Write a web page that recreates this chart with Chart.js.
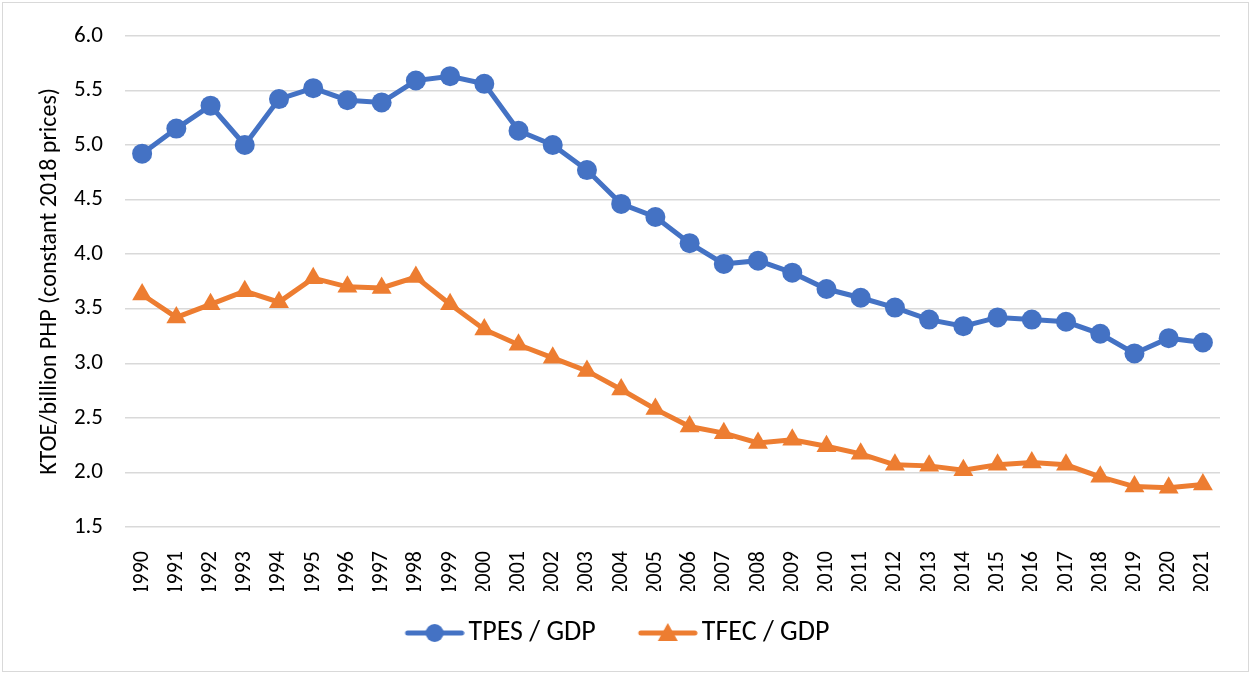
<!DOCTYPE html>
<html>
<head>
<meta charset="utf-8">
<script src="https://cdn.jsdelivr.net/npm/chart.js@4/dist/chart.umd.min.js"></script>
<style>
  body { margin: 0; background: #fff; }
  #wrap { position: relative; width: 1250px; height: 673px; }
  #frame { position: absolute; left: 2px; top: 2px; width: 1245px; height: 668px; border: 1px solid #d9d9d9; pointer-events: none; }
  canvas { position: absolute; left: 0; top: 0; }
</style>
</head>
<body>
<div id="wrap">
  <canvas id="chart" width="1250" height="673"></canvas>
  <div id="frame"></div>
</div>
<script>
const years = ['1990','1991','1992','1993','1994','1995','1996','1997','1998','1999','2000','2001','2002','2003','2004','2005','2006','2007','2008','2009','2010','2011','2012','2013','2014','2015','2016','2017','2018','2019','2020','2021'];
const tpesGdp = [4.92,5.15,5.36,5.00,5.42,5.52,5.41,5.39,5.59,5.63,5.56,5.13,5.00,4.77,4.46,4.34,4.10,3.91,3.94,3.83,3.68,3.60,3.51,3.40,3.34,3.42,3.40,3.38,3.27,3.09,3.23,3.19];
const tfecGdp = [3.63,3.42,3.54,3.66,3.56,3.78,3.70,3.69,3.79,3.54,3.31,3.17,3.05,2.93,2.76,2.58,2.42,2.36,2.27,2.30,2.24,2.17,2.07,2.06,2.02,2.07,2.09,2.07,1.96,1.87,1.86,1.89];
const seriesNames = ['TPES / GDP', 'TFEC / GDP'];
const yAxisTitle = 'KTOE/billion PHP (constant 2018 prices)';

const blue = '#4472C4';
const orange = '#ED7D31';
const fontStack = 'Carlito, "Liberation Sans", Arial, sans-serif';

// legend swatch: short line with the marker on it
// (canvas is wider than the line so the swatch sits close to its text)
const makeSwatch = (color, shape) => {
  const c = document.createElement('canvas');
  c.width = 84;
  c.height = 24;
  const ctx = c.getContext('2d');
  ctx.strokeStyle = color;
  ctx.fillStyle = color;
  ctx.lineWidth = 5;
  ctx.lineCap = 'round';
  ctx.beginPath();
  ctx.moveTo(27, 12);
  ctx.lineTo(81, 12);
  ctx.stroke();
  ctx.beginPath();
  if (shape === 'circle') {
    ctx.arc(54, 12, 9, 0, Math.PI * 2);
  } else {
    ctx.moveTo(54, 2);
    ctx.lineTo(64, 20);
    ctx.lineTo(44, 20);
    ctx.closePath();
  }
  ctx.fill();
  return c;
};
const swatches = [makeSwatch(blue, 'circle'), makeSwatch(orange, 'triangle')];

const chart = new Chart('chart', {
  type: 'line',
  data: {
    labels: years,
    datasets: [
      {
        label: seriesNames[0],
        data: tpesGdp,
        borderColor: blue,
        backgroundColor: blue,
        borderWidth: 5,
        pointStyle: 'circle',
        pointRadius: 10,
        pointBorderWidth: 0,
        tension: 0,
      },
      {
        label: seriesNames[1],
        data: tfecGdp,
        borderColor: orange,
        backgroundColor: orange,
        borderWidth: 5,
        pointStyle: 'triangle',
        pointRadius: 11.5,
        pointBorderWidth: 0,
        tension: 0,
      },
    ],
  },
  options: {
    responsive: false,
    animation: false,
    layout: { padding: { top: 33, right: 30, bottom: 16, left: 0 } },
    plugins: {
      tooltip: { enabled: false },
      legend: {
        display: true,
        position: 'bottom',
        labels: {
          usePointStyle: true,
          pointStyleWidth: 64,
          padding: 28,
          color: '#000',
          font: { family: fontStack, size: 28 },
          generateLabels: (c) => {
            const items = Chart.defaults.plugins.legend.labels.generateLabels(c);
            items.forEach((item, i) => { item.pointStyle = swatches[i]; });
            return items;
          },
        },
      },
    },
    scales: {
      x: {
        offset: true,
        grid: { display: false },
        border: { display: false },
        ticks: {
          color: '#000',
          font: { family: fontStack, size: 22 },
          minRotation: 90,
          maxRotation: 90,
          padding: 16,
          autoSkip: false,
        },
        afterFit: (scale) => { scale.height = 64; },
      },
      y: {
        min: 1.5,
        max: 6.0,
        border: { display: false },
        grid: { color: '#d9d9d9', lineWidth: 1.5, drawTicks: false },
        ticks: {
          stepSize: 0.5,
          padding: 22,
          color: '#000',
          font: { family: fontStack, size: 23 },
          callback: (v) => Number(v).toFixed(1),
        },
        title: {
          display: true,
          text: yAxisTitle,
          color: '#000',
          font: { family: fontStack, size: 24 },
          padding: { top: 36, bottom: 0 },
        },
        afterFit: (scale) => { scale.width = 125; },
      },
    },
  },
});
</script>
</body>
</html>
